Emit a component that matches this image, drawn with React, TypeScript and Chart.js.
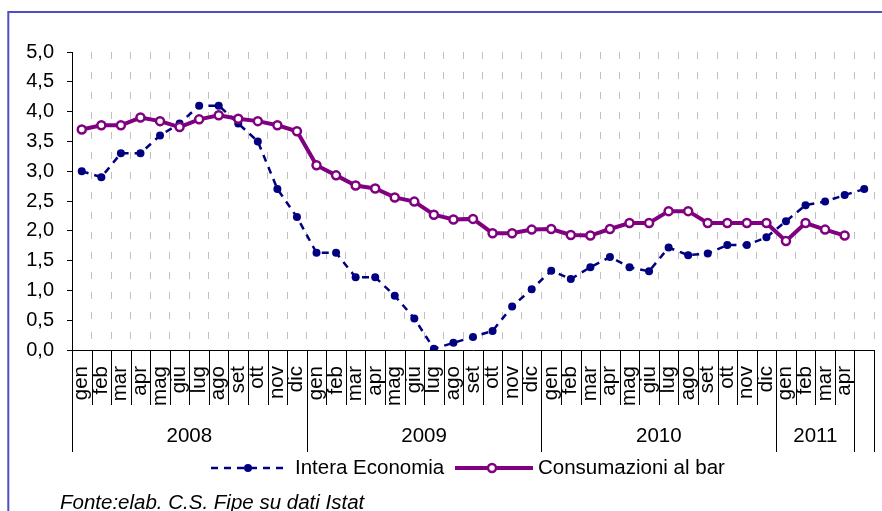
import React, { useEffect, useRef } from 'react';
import { Chart, registerables } from 'chart.js';

Chart.register(...registerables);

const FONT = "'Liberation Sans', Arial, sans-serif";

// Categories (months), 2008 → 2011 plus one trailing unlabeled slot
const categories = [
  'gen', 'feb', 'mar', 'apr', 'mag', 'giu', 'lug', 'ago', 'set', 'ott', 'nov', 'dic',
  'gen', 'feb', 'mar', 'apr', 'mag', 'giu', 'lug', 'ago', 'set', 'ott', 'nov', 'dic',
  'gen', 'feb', 'mar', 'apr', 'mag', 'giu', 'lug', 'ago', 'set', 'ott', 'nov', 'dic',
  'gen', 'feb', 'mar', 'apr', '',
];

const yearLabels = ['2008', '2009', '2010', '2011', ''];
const yearSpans = [12, 12, 12, 4, 1];

const interaEconomia = [
  3.0, 2.9, 3.3, 3.3, 3.6, 3.8, 4.1, 4.1, 3.8, 3.5, 2.7, 2.23,
  1.63, 1.63, 1.22, 1.22, 0.91, 0.53, 0.02, 0.12, 0.22, 0.32, 0.73, 1.02,
  1.33, 1.19, 1.39, 1.56, 1.39, 1.32, 1.72, 1.59, 1.62, 1.76, 1.76, 1.89,
  2.16, 2.43, 2.49, 2.6, 2.7,
];

const consumazioniBar = [
  3.7, 3.77, 3.77, 3.9, 3.84, 3.74, 3.87, 3.94, 3.88, 3.84, 3.77, 3.67,
  3.1, 2.93, 2.76, 2.71, 2.56, 2.49, 2.27, 2.19, 2.2, 1.96, 1.96, 2.02,
  2.03, 1.93, 1.92, 2.03, 2.13, 2.13, 2.33, 2.33, 2.13, 2.13, 2.13, 2.13,
  1.83, 2.13, 2.02, 1.92, null,
];

const seriesNames = ['Intera Economia', 'Consumazioni al bar'];
const sourceText = 'Fonte:elab. C.S. Fipe su dati Istat';

const BLUE = '#000080';
const PURPLE = '#800080';

const decorPlugin = {
  id: 'decor',
  beforeDraw(chart: any) {
    const ctx = chart.ctx;
    ctx.save();
    ctx.fillStyle = '#ffffff';
    ctx.fillRect(0, 0, chart.width, chart.height);
    ctx.restore();
  },
  afterDraw(chart: any) {
    const ctx = chart.ctx;
    const xs = chart.scales.x;
    const area = chart.chartArea;
    const half = (xs.getPixelForValue(1) - xs.getPixelForValue(0)) / 2;
    ctx.save();

    // outer frame (left + top edges visible)
    ctx.strokeStyle = '#4f4fc0';
    ctx.lineWidth = 2;
    ctx.beginPath();
    ctx.moveTo(8.3, chart.height + 5);
    ctx.lineTo(8.3, 12);
    ctx.lineTo(chart.width + 5, 12);
    ctx.stroke();

    // category separators below the axis
    const groupBounds = new Set<number>();
    let acc = 0;
    groupBounds.add(0);
    yearSpans.forEach((s) => { acc += s; groupBounds.add(acc); });
    ctx.strokeStyle = '#000000';
    ctx.lineWidth = 1;
    for (let i = 0; i <= categories.length; i++) {
      const px = Math.round(xs.getPixelForValue(i) - half) + 0.5;
      const yEnd = groupBounds.has(i) ? 452 : 405;
      ctx.beginPath();
      ctx.moveTo(px, area.bottom);
      ctx.lineTo(px, yEnd);
      ctx.stroke();
    }

    // rotated month labels
    ctx.fillStyle = '#000000';
    ctx.font = `20.5px ${FONT}`;
    ctx.textAlign = 'right';
    ctx.textBaseline = 'alphabetic';
    categories.forEach((lab, i) => {
      if (!lab) return;
      const cx = xs.getPixelForValue(i);
      ctx.save();
      ctx.translate(cx + 5.5, 366);
      ctx.rotate(-Math.PI / 2);
      ctx.fillText(lab, 0, 0);
      ctx.restore();
    });

    // year labels
    ctx.font = `20.5px ${FONT}`;
    ctx.textAlign = 'center';
    let start = 0;
    yearLabels.forEach((yl, k) => {
      const end = start + yearSpans[k];
      const x0 = xs.getPixelForValue(start) - half;
      const x1 = xs.getPixelForValue(end) - half;
      if (yl) ctx.fillText(yl, (x0 + x1) / 2, 442);
      start = end;
    });

    // legend
    const ly = 468;
    ctx.lineCap = 'butt';
    ctx.strokeStyle = BLUE;
    ctx.lineWidth = 2.5;
    ctx.setLineDash([7, 6]);
    ctx.beginPath();
    ctx.moveTo(211, ly);
    ctx.lineTo(288, ly);
    ctx.stroke();
    ctx.setLineDash([]);
    ctx.fillStyle = BLUE;
    ctx.beginPath();
    ctx.arc(248, ly, 4, 0, Math.PI * 2);
    ctx.fill();

    ctx.strokeStyle = PURPLE;
    ctx.lineWidth = 4;
    ctx.beginPath();
    ctx.moveTo(455, ly);
    ctx.lineTo(533, ly);
    ctx.stroke();
    ctx.fillStyle = '#ffffff';
    ctx.lineWidth = 2.5;
    ctx.beginPath();
    ctx.arc(492, ly, 4, 0, Math.PI * 2);
    ctx.fill();
    ctx.stroke();

    ctx.fillStyle = '#000000';
    ctx.font = `20.5px ${FONT}`;
    ctx.textAlign = 'left';
    ctx.textBaseline = 'middle';
    ctx.fillText(seriesNames[0], 295, ly);
    ctx.fillText(seriesNames[1], 538, ly);

    // source
    ctx.font = `italic 20.5px ${FONT}`;
    ctx.textBaseline = 'alphabetic';
    ctx.fillText(sourceText, 60, 509);

    ctx.restore();
  },
};

export default function App() {
  const canvasRef = useRef<HTMLCanvasElement | null>(null);

  useEffect(() => {
    if (!canvasRef.current) return;
    const chart = new Chart(canvasRef.current, {
      type: 'line',
      data: {
        labels: categories,
        datasets: [
          {
            label: seriesNames[0],
            data: interaEconomia,
            borderColor: BLUE,
            backgroundColor: BLUE,
            borderWidth: 2.5,
            borderDash: [7, 6],
            pointRadius: 4,
            pointBackgroundColor: BLUE,
            pointBorderColor: BLUE,
            pointBorderWidth: 0,
            tension: 0,
            order: 2,
          },
          {
            label: seriesNames[1],
            data: consumazioniBar,
            borderColor: PURPLE,
            backgroundColor: '#ffffff',
            borderWidth: 4,
            pointRadius: 4,
            pointBackgroundColor: '#ffffff',
            pointBorderColor: PURPLE,
            pointBorderWidth: 2.5,
            tension: 0,
            spanGaps: false,
            order: 1,
          },
        ],
      },
      options: {
        responsive: false,
        animation: false,
        layout: { padding: { top: 52, right: 8, left: 0, bottom: 0 } },
        plugins: {
          legend: { display: false },
          tooltip: { enabled: false },
        },
        scales: {
          x: {
            type: 'category',
            offset: true,
            afterFit: (s: any) => { s.height = 161; },
            grid: {
              offset: true,
              drawOnChartArea: true,
              drawTicks: false,
              color: '#c0c0c0',
              lineWidth: 1,
            },
            border: { display: true, color: '#000000', width: 1, dash: [7, 13] },
            ticks: { display: false },
          },
          y: {
            min: 0,
            max: 5,
            afterFit: (s: any) => { s.width = 72; },
            ticks: {
              stepSize: 0.5,
              color: '#000000',
              padding: 13,
              font: { family: FONT, size: 20 },
              callback: (v: any) => Number(v).toFixed(1).replace('.', ','),
            },
            grid: {
              drawOnChartArea: false,
              drawTicks: true,
              tickLength: 5,
              color: '#000000',
              lineWidth: 1,
            },
            border: { display: true, color: '#000000', width: 1 },
          },
        },
      },
      plugins: [decorPlugin],
    });
    return () => chart.destroy();
  }, []);

  return (
    <div style={{ position: 'absolute', left: 0, top: 0, width: 882, height: 511, background: '#fff' }}>
      <canvas ref={canvasRef} width={882} height={511} style={{ display: 'block', width: 882, height: 511 }} />
    </div>
  );
}
